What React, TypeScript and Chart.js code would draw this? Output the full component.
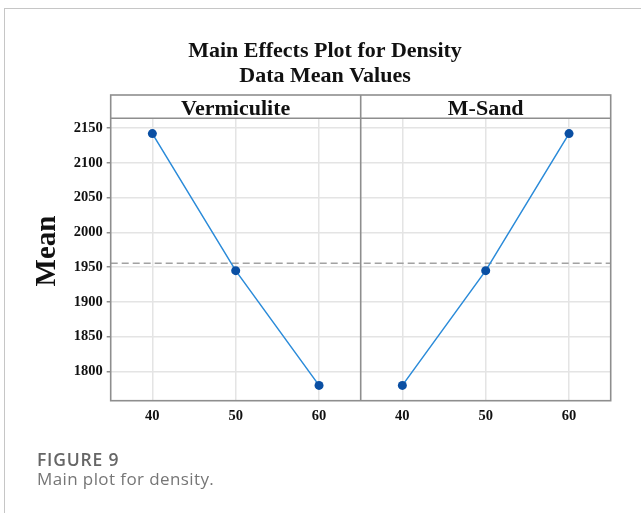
import React, { useEffect, useRef } from "react";
import { Chart, registerables } from "chart.js";

Chart.register(...registerables);

// ---- data ----
const levels = [40, 50, 60];
const factorNames = ["Vermiculite", "M-Sand"];
const vermiculiteMeans = [2142, 1945, 1780];
const mSandMeans = [1780, 1945, 2142];
const yTickValues = [1800, 1850, 1900, 1950, 2000, 2050, 2100, 2150];
const xTickLabels = ["40", "50", "60"];
const titleLines = ["Main Effects Plot for Density", "Data Mean Values"];
const yAxisTitle = "Mean";
const captionLabel = "FIGURE 9";
const captionText = "Main plot for density.";

const allMeans = [...vermiculiteMeans, ...mSandMeans];
const grandMean = allMeans.reduce((s, v) => s + v, 0) / allMeans.length;

// second panel shares the x scale, shifted by PANEL_SHIFT
const PANEL_SHIFT = 30;
const X_MIN = 35;
const X_MAX = 95;
const DIVIDER = 65;
const Y_MIN = 1758;
const Y_MAX = 2164;

const SERIF = '"Liberation Serif", "Times New Roman", serif';
const FRAME = "#8e8e8e";
const GRID = "#e4e4e4";

const panelPlugin = {
  id: "panelPlugin",
  beforeDatasetsDraw(chart: any) {
    const { ctx, chartArea: a, scales } = chart;
    const y = scales.y.getPixelForValue(grandMean);
    ctx.save();
    ctx.strokeStyle = "#a2a2a2";
    ctx.lineWidth = 1.5;
    ctx.setLineDash([7, 4]);
    ctx.beginPath();
    ctx.moveTo(a.left, y);
    ctx.lineTo(a.right, y);
    ctx.stroke();
    ctx.restore();
  },
  afterDraw(chart: any) {
    const { ctx, chartArea: a, scales } = chart;
    const headerTop = a.top - 23.3;
    const divX = scales.x.getPixelForValue(DIVIDER);
    ctx.save();
    // frame
    ctx.strokeStyle = FRAME;
    ctx.lineWidth = 1.6;
    ctx.strokeRect(a.left, headerTop, a.right - a.left, a.bottom - headerTop);
    ctx.beginPath();
    ctx.moveTo(a.left, a.top);
    ctx.lineTo(a.right, a.top);
    ctx.moveTo(divX, headerTop);
    ctx.lineTo(divX, a.bottom);
    ctx.stroke();
    // header strip labels
    ctx.fillStyle = "#111";
    ctx.font = `bold 22px ${SERIF}`;
    ctx.textAlign = "center";
    ctx.textBaseline = "alphabetic";
    ctx.fillText(factorNames[0], (a.left + divX) / 2, a.top - 3);
    ctx.fillText(factorNames[1], (divX + a.right) / 2, a.top - 3);
    // title
    ctx.fillText(titleLines[0], 325, 57);
    ctx.fillText(titleLines[1], 325, 82);
    // y axis title
    ctx.translate(48, 251);
    ctx.rotate(-Math.PI / 2);
    ctx.font = `bold 29px ${SERIF}`;
    ctx.textBaseline = "middle";
    ctx.fillText(yAxisTitle, 0, 0);
    ctx.restore();
  },
};

export default function App() {
  const canvasRef = useRef<HTMLCanvasElement | null>(null);

  useEffect(() => {
    document.body.style.margin = "0";
    const canvas = canvasRef.current;
    if (!canvas) return;
    const pts = (vals: number[], shift: number) =>
      levels.map((l, i) => ({ x: l + shift, y: vals[i] }));
    const lineStyle = {
      borderColor: "#2b8bd9",
      borderWidth: 1.5,
      pointRadius: 4.5,
      pointHoverRadius: 4.5,
      pointBackgroundColor: "#0a4fa3",
      pointBorderColor: "#0a4fa3",
      pointBorderWidth: 0,
      tension: 0,
      fill: false,
    };
    const chart = new Chart(canvas, {
      type: "line",
      data: {
        datasets: [
          { label: factorNames[0], data: pts(vermiculiteMeans, 0), ...lineStyle },
          { label: factorNames[1], data: pts(mSandMeans, PANEL_SHIFT), ...lineStyle },
        ],
      },
      options: {
        animation: false,
        responsive: false,
        devicePixelRatio: 1,
        events: [],
        layout: { padding: { top: 118.3, right: 30.3, left: 0, bottom: 0 } },
        plugins: {
          legend: { display: false },
          title: { display: false },
          tooltip: { enabled: false },
        },
        scales: {
          x: {
            type: "linear",
            min: X_MIN,
            max: X_MAX,
            afterBuildTicks: (scale: any) => {
              scale.ticks = [
                ...levels.map((v) => ({ value: v })),
                ...levels.map((v) => ({ value: v + PANEL_SHIFT })),
              ];
            },
            afterFit: (scale: any) => {
              scale.height = 513 - 400.7;
            },
            ticks: {
              autoSkip: false,
              maxRotation: 0,
              padding: 7,
              color: "#111",
              font: { family: SERIF, size: 14.5, weight: "bold" },
              callback: (value: any) => {
                const v = Number(value);
                const base = v > DIVIDER ? v - PANEL_SHIFT : v;
                const idx = levels.indexOf(base);
                return idx >= 0 ? xTickLabels[idx] : "";
              },
            },
            grid: { color: GRID, lineWidth: 1.5, drawTicks: false },
            border: { display: false },
          },
          y: {
            type: "linear",
            min: Y_MIN,
            max: Y_MAX,
            afterBuildTicks: (scale: any) => {
              scale.ticks = yTickValues.map((v) => ({ value: v }));
            },
            afterFit: (scale: any) => {
              scale.width = 110.7;
            },
            ticks: {
              padding: 4,
              color: "#111",
              font: { family: SERIF, size: 14.5, weight: "bold" },
              callback: (value: any) => String(value),
            },
            grid: {
              color: GRID,
              lineWidth: 1.5,
              drawTicks: true,
              tickLength: 4,
              tickColor: FRAME,
            },
            border: { display: false },
          },
        },
      },
      plugins: [panelPlugin],
    } as any);
    return () => chart.destroy();
  }, []);

  return (
    <div
      style={{
        position: "fixed",
        left: 0,
        top: 0,
        width: 641,
        height: 513,
        overflow: "hidden",
        background: "#fff",
      }}
    >
      <div
        style={{
          position: "absolute",
          left: 4,
          top: 8,
          width: 800,
          height: 800,
          borderTop: "1.5px solid #c6c6c6",
          borderLeft: "1.5px solid #c6c6c6",
        }}
      />
      <canvas
        ref={canvasRef}
        width={641}
        height={513}
        style={{ position: "absolute", left: 0, top: 0, width: 641, height: 513 }}
      />
      <div
        style={{
          position: "absolute",
          left: 37,
          top: 449,
          fontFamily: '"Open Sans", "Noto Sans", sans-serif',
          fontWeight: 600,
          fontSize: 17.5,
          letterSpacing: "0.8px",
          lineHeight: "20px",
          color: "#666",
          whiteSpace: "nowrap",
        }}
      >
        {captionLabel}
      </div>
      <div
        style={{
          position: "absolute",
          left: 37,
          top: 468.5,
          fontFamily: '"Open Sans", "Noto Sans", sans-serif',
          fontWeight: 400,
          fontSize: 17,
          letterSpacing: "0.4px",
          lineHeight: "20px",
          color: "#767676",
          whiteSpace: "nowrap",
        }}
      >
        {captionText}
      </div>
    </div>
  );
}
